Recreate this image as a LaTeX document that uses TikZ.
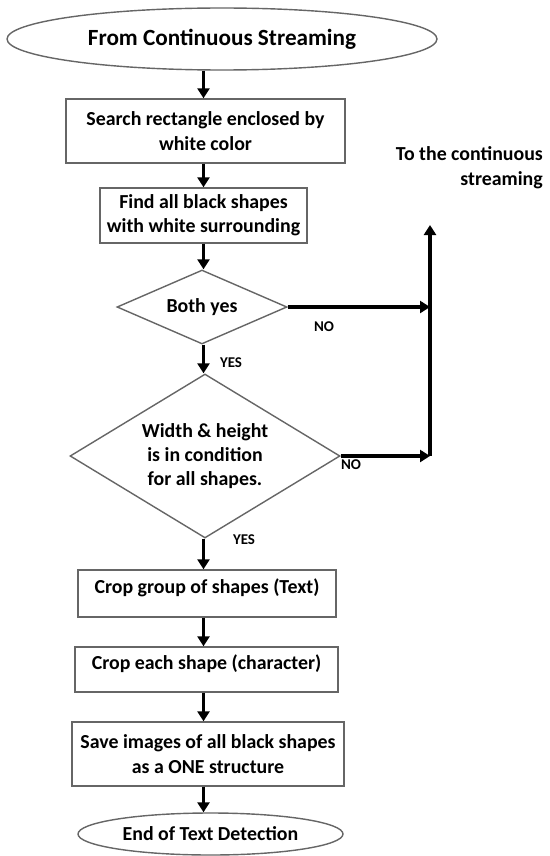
\documentclass[tikz,border=0pt]{standalone}
\usepackage{fontspec}
\setmainfont{Carlito}
\usetikzlibrary{shapes.geometric,arrows.meta}

\begin{document}
\begin{tikzpicture}[font=\bfseries\fontsize{11.3}{13.8}\selectfont,
  term/.style={draw=black!60,line width=0.8pt,ellipse,inner sep=0pt},
  proc/.style={draw=black!60,line width=0.8pt,rectangle,align=center,inner sep=2pt},
  cond/.style={draw=black!60,line width=0.8pt,diamond,align=center,inner sep=0pt},
  upper/.style={text depth=8.5pt},
  tag/.style={font=\bfseries\fontsize{8.5}{10}\selectfont},
  flow/.style={-{Triangle[length=2mm,width=2.4mm]},line width=1.8pt}]

\useasboundingbox (0,0) rectangle (11,-17.12);

\node[term,minimum width=86mm,minimum height=12.4mm,
  font=\bfseries\fontsize{13.2}{16}\selectfont] (start) at (4.44,-0.78) {From Continuous Streaming};
\node[proc,minimum width=55.8mm,minimum height=12.8mm] (search) at (4.11,-2.62)
  {Search rectangle enclosed by\\ white color};
\node[proc,minimum width=41.4mm,minimum height=11mm] (find) at (4.07,-4.31)
  {Find all black shapes\\ with white surrounding};
\node[cond,aspect=2.3,minimum width=34mm,minimum height=14.8mm] (both) at (4.04,-6.14) {Both yes};
\node[cond,aspect=1.65,minimum width=54mm,minimum height=32.8mm] (dims) at (4.1,-9.12)
  {Width \& height\\ is in condition\\ for all shapes.};
\node[proc,upper,minimum width=51.6mm,minimum height=9.4mm] (group) at (4.14,-11.87)
  {Crop group of shapes (Text)};
\node[proc,upper,minimum width=52.6mm,minimum height=9mm] (each) at (4.13,-13.39)
  {Crop each shape (character)};
\node[proc,minimum width=54.4mm,minimum height=12.8mm] (save) at (4.16,-15.08)
  {Save images of all black shapes\\ as a ONE structure};
\node[term,minimum width=53mm,minimum height=8.4mm] (stop) at (4.21,-16.68) {End of Text Detection};

\node[align=right,anchor=east,font=\bfseries\fontsize{11.3}{14.5}\selectfont] (note) at (10.98,-3.35)
  {To the continuous\\ streaming};
\node[tag] (no1) at (6.48,-6.54) {NO};
\node[tag] (yes1) at (4.62,-7.26) {YES};
\node[tag] (no2) at (7.02,-9.3) {NO};
\node[tag] (yes2) at (4.88,-10.8) {YES};

% main line runs down one x, the boxes are not quite centred on it
\coordinate (spine) at (4.07,0);
\coordinate (back) at (8.6,-4.5);

\draw[flow] (spine |- start.south) -- (spine |- search.north);
\draw[flow] (spine |- search.south) -- (spine |- find.north);
\draw[flow] (spine |- find.south) -- (spine |- both.north);
\draw[flow] (spine |- both.south) -- (spine |- dims.north);
\draw[flow] (spine |- dims.south) -- (spine |- group.north);
\draw[flow] (spine |- group.south) -- (spine |- each.north);
\draw[flow] (spine |- each.south) -- (spine |- save.north);
\draw[flow] (spine |- save.south) -- (spine |- stop.north);

\draw[flow] (both.east) -- (both.east -| back);
\draw[flow] (dims.east) -- (dims.east -| back);
\draw[flow] (dims.east -| back) -- (back);
\end{tikzpicture}
\end{document}
